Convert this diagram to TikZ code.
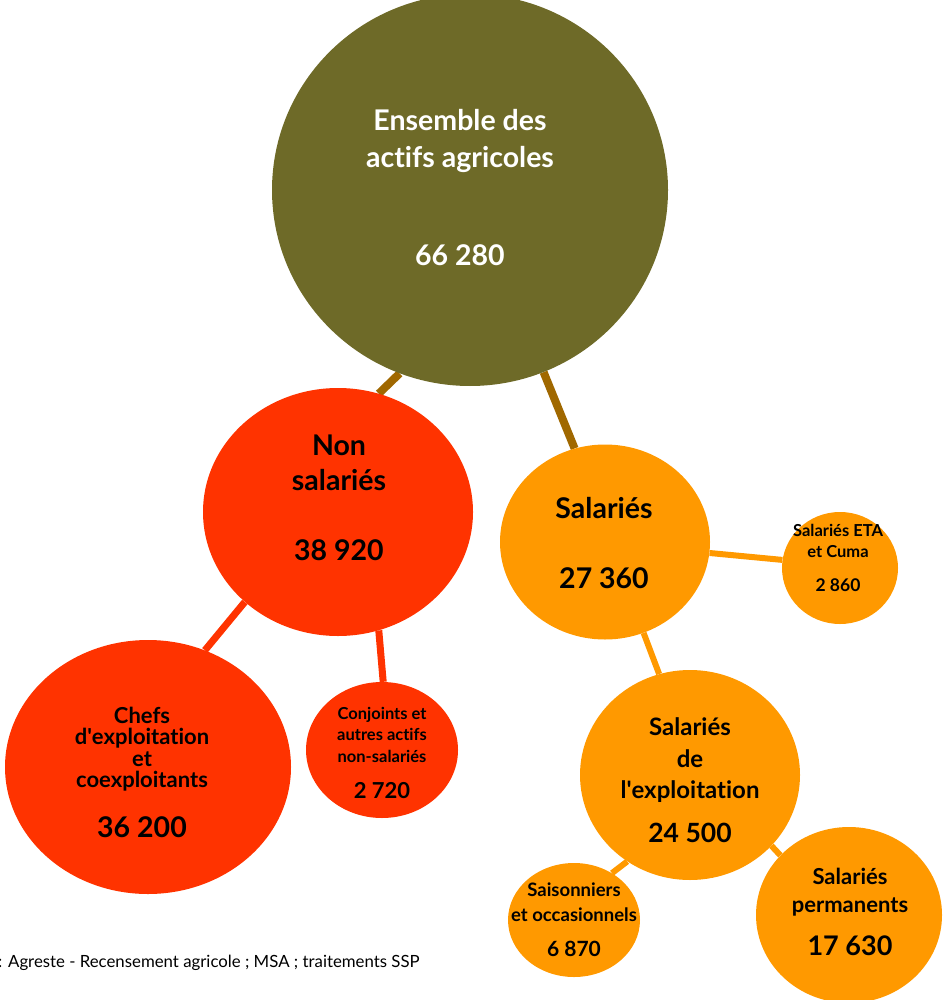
\documentclass[tikz,border=0pt]{standalone}
\usepackage{fontspec}
\setmainfont{Lato}[Ligatures={TeX,NoCommon}]
\usetikzlibrary{shapes.geometric, backgrounds}
\definecolor{olivebubble}{HTML}{6E6A28}
\definecolor{redbubble}{HTML}{FF3300}
\definecolor{orangebubble}{HTML}{FF9900}
\definecolor{linkbrown}{HTML}{A06800}

\tikzset{
  bubble/.style={ellipse, inner sep=0pt},
  txt/.style={align=center, inner sep=0pt},
  link/.style={line cap=butt}
}

\begin{document}
\begin{tikzpicture}[x=1pt,y=-1pt]
\useasboundingbox (0,0) rectangle (942,1000);

% bubbles
\node[bubble, fill=olivebubble, minimum width=396pt, minimum height=392pt] (ens) at (470,190) {};
\node[bubble, fill=redbubble, minimum width=270pt, minimum height=248pt] (non) at (338,512) {};
\node[bubble, fill=orangebubble, minimum width=210pt, minimum height=195pt] (sal) at (605,542) {};
\node[bubble, fill=orangebubble, minimum width=116pt, minimum height=112pt] (eta) at (840,568) {};
\node[bubble, fill=redbubble, minimum width=286pt, minimum height=254pt] (chefs) at (148,767) {};
\node[bubble, fill=redbubble, minimum width=152pt, minimum height=136pt] (conj) at (382,750) {};
\node[bubble, fill=orangebubble, minimum width=220pt, minimum height=210pt] (expl) at (690,775) {};
\node[bubble, fill=orangebubble, minimum width=132pt, minimum height=114pt] (sais) at (574,920) {};
\node[bubble, fill=orangebubble, minimum width=186pt, minimum height=176pt] (perm) at (849,915) {};

\begin{scope}[on background layer]
\draw[link, line width=8pt, linkbrown] (ens.-111) -- (non.71);
\draw[link, line width=8pt, linkbrown] (ens.-68) -- (sal.108);
\draw[link, line width=7pt, redbubble] (non.-136) -- (chefs.64);
\draw[link, line width=7pt, redbubble] (non.-71) -- (conj.89);
\draw[link, line width=6pt, orangebubble] (sal.-6) -- (eta.172);
\draw[link, line width=6pt, orangebubble] (sal.-67) -- (expl.107);
\draw[link, line width=6pt, orangebubble] (expl.-126) -- (sais.51);
\draw[link, line width=6pt, orangebubble] (expl.-41) -- (perm.139);
\end{scope}

% labels
\node[txt, white, font=\bfseries\fontsize{28.5}{37}\selectfont] (ens-txt) at (460,188)
  {Ensemble des\\actifs agricoles\\[61pt]66 280};
\node[txt, font=\bfseries\fontsize{28.5}{35}\selectfont] (non-txt) at (339,498)
  {Non\\salariés\\[35pt]38 920};
\node[txt, font=\bfseries\fontsize{28.5}{35}\selectfont] (sal-txt) at (604,543)
  {Salariés\\[35pt]27 360};
\node[txt, font=\bfseries\fontsize{16.5}{21}\selectfont] (eta-txt) at (838,558)
  {Salariés ETA\\et Cuma\\[13pt]{\fontsize{17.5}{21}\selectfont 2 860}};
\node[txt, font=\bfseries\fontsize{22}{21.5}\selectfont] (chefs-txt) at (142,772)
  {Chefs\\d\textquotesingle exploitation\\et\\coexploitants\\[24pt]{\fontsize{28.5}{21.5}\selectfont 36 200}};
\node[txt, font=\bfseries\fontsize{16.5}{21.5}\selectfont] (conj-txt) at (382,753)
  {Conjoints et\\autres actifs\\non-salariés\\[15pt]{\fontsize{22}{21.5}\selectfont 2 720}};
\node[txt, font=\bfseries\fontsize{24}{31.5}\selectfont] (expl-txt) at (690,780)
  {Salariés\\de\\l\textquotesingle exploitation\\[12pt]{\fontsize{26.5}{31.5}\selectfont 24 500}};
\node[txt, font=\bfseries\fontsize{18.5}{25}\selectfont] (sais-txt) at (574,920)
  {Saisonniers\\et occasionnels\\[10pt]{\fontsize{21}{25}\selectfont 6 870}};
\node[txt, font=\bfseries\fontsize{22}{28}\selectfont] (perm-txt) at (850,912)
  {Salariés\\permanents\\[15pt]{\fontsize{27}{28}\selectfont 17 630}};

\node[anchor=west, inner sep=0pt, font=\fontsize{16.8}{18}\selectfont] (source) at (-2,963)
  {: Agreste - Recensement agricole ; MSA ; traitements SSP};
\end{tikzpicture}
\end{document}
